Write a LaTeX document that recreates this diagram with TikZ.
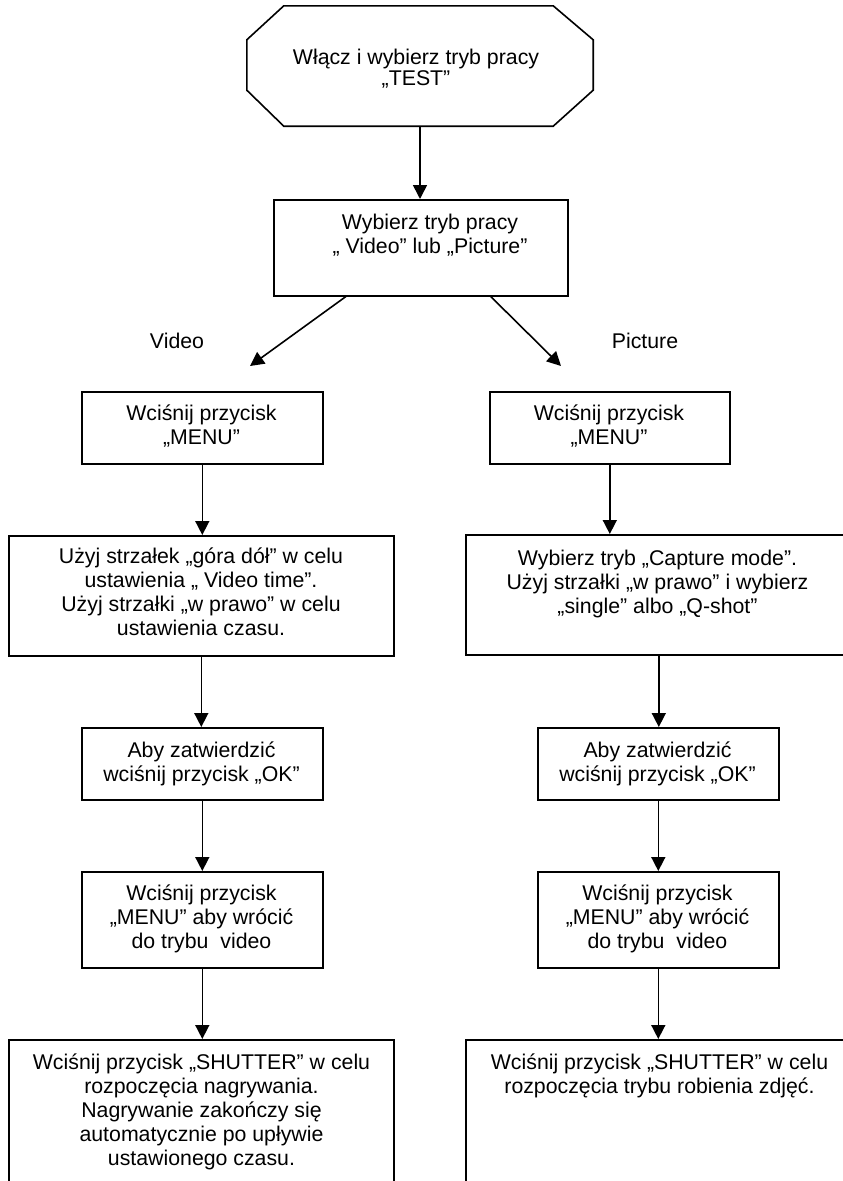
\documentclass[tikz,border=0pt]{standalone}
\usepackage{fontspec}
\setmainfont{Liberation Sans}
\usetikzlibrary{arrows.meta}
\begin{document}
\begin{tikzpicture}[x=1pt,y=-1pt,
  box/.style={draw=black, line width=1.6pt, inner sep=0pt, anchor=north west},
  txt/.style={align=center, inner sep=0pt, anchor=base, font=\fontsize{21.3}{24}\selectfont},
  lbl/.style={inner sep=0pt, anchor=base, font=\fontsize{21.3}{24}\selectfont},
  arr/.style={draw=black, line width=1.6pt, -{Triangle[length=14pt,width=14pt]}}]
\useasboundingbox (0,0) rectangle (843,1181);
\fill[white] (0,0) rectangle (843,1181);
\clip (0,0) rectangle (843,1181);

% start octagon
\node[inner sep=0pt, minimum width=346pt, minimum height=120pt] (start) at (420,66) {};
\draw[line width=1.6pt] ([xshift=37pt]start.north west) -- ([xshift=-40pt]start.north east)
  -- ([yshift=-34pt]start.north east) -- ([yshift=36pt]start.south east)
  -- ([xshift=-40pt]start.south east) -- ([xshift=37pt]start.south west)
  -- ([yshift=36pt]start.south west) -- ([yshift=-34pt]start.north west) -- cycle;
\node[txt, font=\fontsize{21.3}{21}\selectfont] (startt) at (416,85) {Włącz i wybierz tryb pracy\\„TEST”};

% boxes
\node[box, minimum width=294pt, minimum height=96pt] (b2) at (273,199) {};
\node[box, minimum width=241pt, minimum height=72pt] (L1) at (81,391) {};
\node[box, minimum width=240pt, minimum height=72pt] (R1) at (489,391) {};
\node[box, minimum width=385pt, minimum height=120pt] (L2) at (8,535) {};
\node[box, minimum width=386pt, minimum height=120pt] (R2) at (465,534) {};
\node[box, minimum width=241pt, minimum height=72pt] (L3) at (81,727) {};
\node[box, minimum width=241pt, minimum height=72pt] (R3) at (537,727) {};
\node[box, minimum width=241pt, minimum height=96pt] (L4) at (81,871) {};
\node[box, minimum width=241pt, minimum height=96pt] (R4) at (537,871) {};
\node[box, minimum width=385pt, minimum height=200pt] (L5) at (8,1039) {};
\node[box, minimum width=386pt, minimum height=200pt] (R5) at (465,1039) {};

% texts (anchor = baseline of the last line)
\node[txt] (b2t) at (430,253) {Wybierz tryb pracy\\„ Video” lub „Picture”};
\node[txt] (L1t) at (201.5,444) {Wciśnij przycisk\\„MENU”};
\node[txt] (R1t) at (609,444) {Wciśnij przycisk\\„MENU”};
\node[txt] (L2t) at (201,635) {Użyj strzałek „góra dół” w celu\\ustawienia „ Video time”.\\Użyj strzałki „w prawo” w celu\\ustawienia czasu.};
\node[txt] (R2t) at (657.5,613) {Wybierz tryb „Capture mode”.\\Użyj strzałki „w prawo” i wybierz\\„single” albo „Q-shot”};
\node[txt] (L3t) at (201.5,781) {Aby zatwierdzić\\wciśnij przycisk „OK”};
\node[txt] (R3t) at (657.5,781) {Aby zatwierdzić\\wciśnij przycisk „OK”};
\node[txt] (L4t) at (201.5,948) {Wciśnij przycisk\\„MENU” aby wrócić\\do trybu\ \ video};
\node[txt] (R4t) at (657.5,948) {Wciśnij przycisk\\„MENU” aby wrócić\\do trybu\ \ video};
\node[txt] (L5t) at (201.5,1165) {Wciśnij przycisk „SHUTTER” w celu\\rozpoczęcia nagrywania.\\Nagrywanie zakończy się\\automatycznie po upływie\\ustawionego czasu.};
\node[txt] (R5t) at (659.5,1093) {Wciśnij przycisk „SHUTTER” w celu\\rozpoczęcia trybu robienia zdjęć.};

% branch labels
\node[lbl] (vlab) at (177,348) {Video};
\node[lbl] (plab) at (645,348) {Picture};

% connectors
\coordinate (vtip) at (250,366);
\coordinate (ptip) at (561,366);
\draw[arr] (start.south) -- (start.south |- b2.north);
\draw[arr] ([xshift=-75pt]b2.south) -- (vtip);
\draw[arr] ([xshift=70pt]b2.south) -- (ptip);
\draw[arr] (L1.south) -- (L1.south |- L2.north);
\draw[arr] (R1.south) -- (R1.south |- R2.north);
\draw[arr] (L2.south) -- (L2.south |- L3.north);
\draw[arr] (R2.south) -- (R2.south |- R3.north);
\draw[arr] (L3.south) -- (L4.north);
\draw[arr] (R3.south) -- (R4.north);
\draw[arr] (L4.south) -- (L4.south |- L5.north);
\draw[arr] (R4.south) -- (R4.south |- R5.north);
\end{tikzpicture}
\end{document}
